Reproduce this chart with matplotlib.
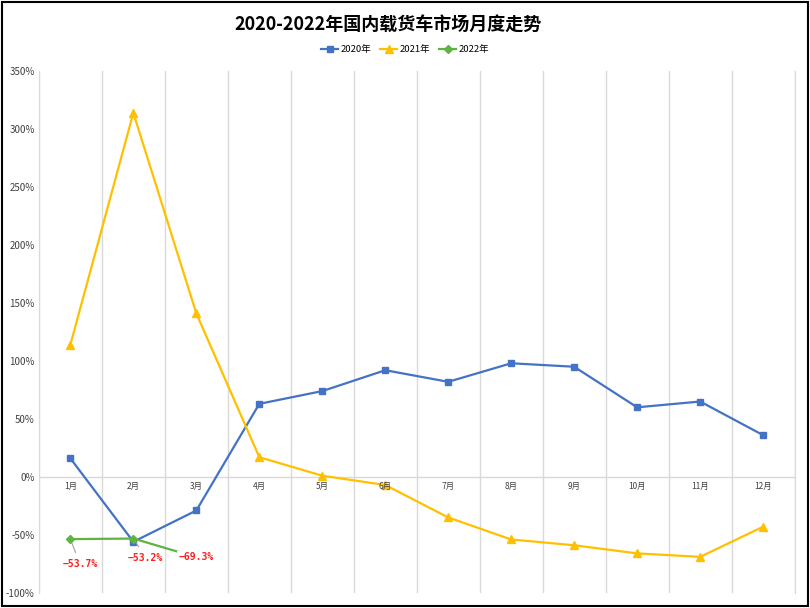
import matplotlib
matplotlib.use('Agg')
import matplotlib.pyplot as plt
from matplotlib.patches import Rectangle
from matplotlib.ticker import FuncFormatter, FixedLocator

plt.rcParams['font.family'] = ['Noto Sans CJK SC', 'DejaVu Sans']

months = ['1月', '2月', '3月', '4月', '5月', '6月', '7月', '8月', '9月', '10月', '11月', '12月']
y2020 = [16, -56, -29, 63, 74, 92, 82, 98, 95, 60, 65, 36]
y2021 = [114, 314, 141, 17, 1, -7, -35, -54, -59, -66, -69, -43]
y2022 = [-53.7, -53.2, -69.3]
labels2022 = ['-53.7%', '-53.2%', '-69.3%']

fig = plt.figure(figsize=(8.1, 6.08), dpi=100)
ax = fig.add_axes([0.048, 0.025, 0.933, 0.858])

x = list(range(len(months)))
ax.plot(x, y2020, color='#4472C4', lw=1.6, marker='s', ms=5, label='2020年', zorder=3)
ax.plot(x, y2021, color='#FFC000', lw=1.6, marker='^', ms=6, label='2021年', zorder=3)
ax.plot(x[:len(y2022)], y2022, color='#5EB43F', lw=1.6, marker='D', ms=4.5,
        markevery=[0, 1], label='2022年', zorder=4)

# 数据标签（白底，盖住线尾）
offsets = [(7, -18), (9, -14), (0, 0)]
for i, (v, txt) in enumerate(zip(y2022, labels2022)):
    arrow = None
    if i < 2:
        arrow = dict(arrowstyle='-', color='#A0A0A0', lw=0.8, shrinkA=4, shrinkB=3)
    ax.annotate(txt.replace('-', '\u2212'), (i, v), xytext=offsets[i], textcoords='offset points',
                ha='center', va='center', color='#FF2020', fontsize=7,
                family=['DejaVu Sans Mono'], fontweight='bold', arrowprops=arrow,
                bbox=dict(boxstyle='square,pad=0.15', fc='white', ec='none'), zorder=5)

# 月份标签放在0线下方
for i, m in enumerate(months):
    ax.annotate(m, (i, 0), xytext=(0, -7), textcoords='offset points',
                ha='center', va='center', fontsize=6, color='#404040')

ax.set_xlim(-0.5, 11.5)
ax.set_ylim(-100, 350)
ax.set_yticks(range(-100, 351, 50))
ax.yaxis.set_major_formatter(FuncFormatter(lambda v, p: f'{int(v)}%'))
ax.tick_params(axis='y', length=0, labelsize=7, colors='#404040', pad=3)
ax.set_xticks([])
ax.xaxis.set_minor_locator(FixedLocator([k + 0.5 for k in range(-1, 12)]))
ax.tick_params(axis='x', which='minor', length=0)
ax.grid(axis='x', which='minor', color='#D9D9D9', lw=1)
ax.axhline(0, color='#D9D9D9', lw=1, zorder=1)
for s in ax.spines.values():
    s.set_visible(False)
ax.spines['left'].set_visible(True)
ax.spines['left'].set_color('#D9D9D9')
ax.spines['right'].set_visible(True)
ax.spines['right'].set_color('#D9D9D9')

fig.suptitle('2020-2022年国内载货车市场月度走势', x=0.479, y=0.975, fontsize=13, fontweight='bold')
fig.legend(loc='center', bbox_to_anchor=(0.5, 0.918), ncol=3, frameon=False,
           fontsize=6.8, handlelength=1.8, columnspacing=1.0, handletextpad=0.2)

fig.patches.append(Rectangle((0.002, 0.003), 0.995, 0.994, transform=fig.transFigure,
                             fill=False, edgecolor='black', lw=1.5))

fig.savefig('out.png', dpi=100)
